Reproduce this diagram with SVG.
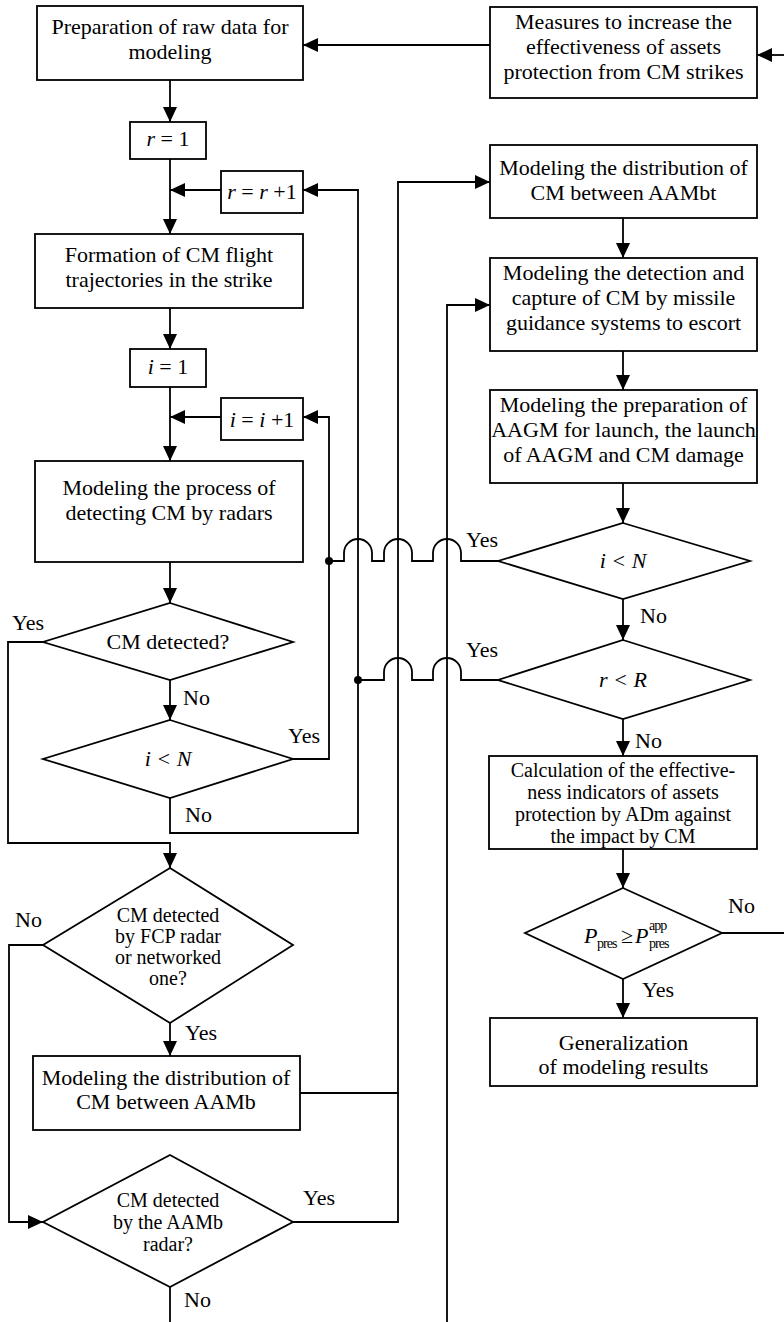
<svg xmlns="http://www.w3.org/2000/svg" width="784" height="1322" viewBox="0 0 784 1322" font-family="'Liberation Serif', 'Times New Roman', serif">
<style>
.b{fill:#fff;stroke:#000;stroke-width:1.8}
.c{fill:none;stroke:#000;stroke-width:1.8}
.a{marker-end:url(#ah)}
text{font-family:"Liberation Serif","Times New Roman",serif;font-size:22px;fill:#000}
.t{text-anchor:middle}
.i{font-style:italic}
.s{font-size:14px;letter-spacing:-1px}
.d{font-size:20px}
</style>
<defs>
<marker id="ah" markerUnits="userSpaceOnUse" markerWidth="15" markerHeight="14" refX="15" refY="7" orient="auto">
<path d="M0,0 L15,7 L0,14 z" fill="#000"/>
</marker>
</defs>
<rect width="784" height="1322" fill="#fff"/>

<g id="connectors">
<path class="c a" d="M490,45 H303"/>
<path class="c a" d="M784,55 H757"/>
<path class="c a" d="M170,80 V122"/>
<path class="c a" d="M170,159 V234"/>
<path class="c a" d="M221,190 H170"/>
<path class="c a" d="M170,308 V349"/>
<path class="c a" d="M170,387 V461"/>
<path class="c a" d="M221,417 H170"/>
<path class="c a" d="M170,562 V603"/>
<path class="c a" d="M170,680 V720"/>
<path class="c a" d="M43,642 H8 V843 H170 V868"/>
<path class="c a" d="M293,759 H329 V417 H303"/>
<path class="c a" d="M170,798 V833 H358 V190 H303"/>
<path class="c a" d="M170,1023 V1056"/>
<path class="c a" d="M43,945 H9 V1222 H43"/>
<path class="c a" d="M300,1093 H398 V182 H490"/>
<path class="c" d="M293,1222 H398 V1093"/>
<path class="c" d="M170,1287 V1322"/>
<path class="c a" d="M447,1322 V305 H490"/>
<path class="c a" d="M623,218 V258"/>
<path class="c a" d="M623,351 V390"/>
<path class="c a" d="M623,483 V523"/>
<path class="c a" d="M623,599 V640"/>
<path class="c a" d="M623,719 V756"/>
<path class="c a" d="M623,849 V888"/>
<path class="c a" d="M623,979 V1018"/>
<path class="c" d="M722,933 H784"/>
<path class="c" d="M329,561 H344 V553 A14,14 0 0 1 372,553 V561 H384 V553 A14,14 0 0 1 412,553 V561 H433 V553 A14,14 0 0 1 461,553 V561 H498"/>
<path class="c" d="M358,680 H384 V672 A14,14 0 0 1 412,672 V680 H433 V672 A14,14 0 0 1 461,672 V680 H498"/>
<circle cx="329" cy="561" r="4" fill="#000"/>
<circle cx="358" cy="680" r="4" fill="#000"/>
</g>

<g id="n-prep">
<rect class="b" x="37" y="6" width="266" height="74"/>
<text class="t" x="170" y="34">Preparation of raw data for</text>
<text class="t" x="170" y="59">modeling</text>
</g>
<g id="n-measures">
<rect class="b" x="490" y="7" width="267" height="91"/>
<text class="t" x="623.5" y="29">Measures to increase the</text>
<text class="t" x="623.5" y="54">effectiveness of assets</text>
<text class="t" x="623.5" y="79">protection from CM strikes</text>
</g>
<g id="n-r1">
<rect class="b" x="130" y="122" width="76" height="37"/>
<text class="t" x="168" y="146"><tspan class="i">r</tspan> = 1</text>
</g>
<g id="n-rinc">
<rect class="b" x="221" y="171" width="82" height="42"/>
<text class="t" x="262" y="199"><tspan class="i">r</tspan> = <tspan class="i">r</tspan> +1</text>
</g>
<g id="n-form">
<rect class="b" x="35" y="234" width="268" height="74"/>
<text class="t" x="169" y="262">Formation of CM flight</text>
<text class="t" x="169" y="287">trajectories in the strike</text>
</g>
<g id="n-i1">
<rect class="b" x="130" y="349" width="76" height="38"/>
<text class="t" x="168" y="374"><tspan class="i">i</tspan> = 1</text>
</g>
<g id="n-iinc">
<rect class="b" x="221" y="398" width="82" height="42"/>
<text class="t" x="262" y="427"><tspan class="i">i</tspan> = <tspan class="i">i</tspan> +1</text>
</g>
<g id="n-process">
<rect class="b" x="35" y="461" width="268" height="101"/>
<text class="t" x="169" y="495">Modeling the process of</text>
<text class="t" x="169" y="520">detecting CM by radars</text>
</g>
<g id="n-cmdet">
<polygon class="b" points="170,603 293,642 170,680 43,642"/>
<text class="t" x="168" y="649">CM detected?</text>
</g>
<g id="n-iltn-l">
<polygon class="b" points="170,720 293,759 170,798 43,759"/>
<text class="t i" x="168" y="766">i &lt; N</text>
</g>
<g id="n-fcp">
<polygon class="b" points="170,868 293,945 170,1023 43,945"/>
<text class="t d" x="168" y="922">CM detected</text>
<text class="t d" x="168" y="943">by FCP radar</text>
<text class="t d" x="168" y="964">or networked</text>
<text class="t d" x="168" y="985">one?</text>
</g>
<g id="n-aamb">
<rect class="b" x="33" y="1056" width="267" height="74"/>
<text class="t" x="166" y="1085">Modeling the distribution of</text>
<text class="t" x="166" y="1109">CM between AAMb</text>
</g>
<g id="n-aambradar">
<polygon class="b" points="170,1155 293,1222 170,1287 43,1222"/>
<text class="t d" x="168" y="1207">CM detected</text>
<text class="t d" x="168" y="1229">by the AAMb</text>
<text class="t d" x="168" y="1251">radar?</text>
</g>
<g id="n-aambt">
<rect class="b" x="490" y="145" width="267" height="73"/>
<text class="t" x="623.5" y="175">Modeling the distribution of</text>
<text class="t" x="623.5" y="200">CM between AAMbt</text>
</g>
<g id="n-capture">
<rect class="b" x="490" y="258" width="267" height="93"/>
<text class="t" x="623.5" y="280">Modeling the detection and</text>
<text class="t" x="623.5" y="305">capture of CM by missile</text>
<text class="t" x="623.5" y="330">guidance systems to escort</text>
</g>
<g id="n-aagm">
<rect class="b" x="490" y="390" width="267" height="93"/>
<text class="t" x="623.5" y="412">Modeling the preparation of</text>
<text class="t" x="623.5" y="437">AAGM for launch, the launch</text>
<text class="t" x="623.5" y="462">of AAGM and CM damage</text>
</g>
<g id="n-iltn-r">
<polygon class="b" points="623,523 750,561 623,599 498,561"/>
<text class="t i" x="623" y="568">i &lt; N</text>
</g>
<g id="n-rltr">
<polygon class="b" points="623,640 750,680 623,719 498,680"/>
<text class="t i" x="623" y="687">r &lt; R</text>
</g>
<g id="n-calc">
<rect class="b" x="489" y="756" width="268" height="93"/>
<text class="t d" x="623" y="777">Calculation of the effective-</text>
<text class="t d" x="623" y="799">ness indicators of assets</text>
<text class="t d" x="623" y="821">protection by ADm against</text>
<text class="t d" x="623" y="843">the impact by CM</text>
</g>
<g id="n-pcheck">
<polygon class="b" points="623,888 722,933 623,979 525,933"/>
<text class="i" x="584" y="943">P</text>
<text class="s" x="597" y="948">pres</text>
<text x="621" y="943">≥</text>
<text class="i" x="635" y="943">P</text>
<text class="s" x="649" y="930">app</text>
<text class="s" x="649" y="948">pres</text>
</g>
<g id="n-general">
<rect class="b" x="490" y="1018" width="267" height="68"/>
<text class="t" x="623.5" y="1050">Generalization</text>
<text class="t" x="623.5" y="1074">of modeling results</text>
</g>

<g id="labels">
<text x="12" y="630">Yes</text>
<text x="183" y="705">No</text>
<text x="288" y="743">Yes</text>
<text x="185" y="822">No</text>
<text x="15" y="927">No</text>
<text x="185" y="1040">Yes</text>
<text x="303" y="1205">Yes</text>
<text x="184" y="1307">No</text>
<text x="466" y="547">Yes</text>
<text x="466" y="657">Yes</text>
<text x="640" y="623">No</text>
<text x="635" y="748">No</text>
<text x="728" y="913">No</text>
<text x="642" y="997">Yes</text>
</g>
</svg>
